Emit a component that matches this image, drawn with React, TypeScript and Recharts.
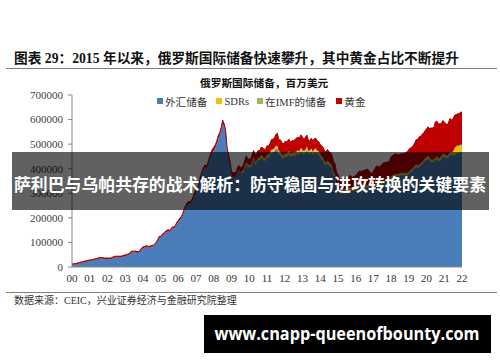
import React from 'react';
import { AreaChart, Area, XAxis, YAxis } from 'recharts';

// Russia international reserves, USD bn, monthly from 2000-01 to 2022-01
const totalReserves = [
  12.5, 13.3, 14.0, 15.5, 16.6, 18.6, 20.0, 21.7, 23.3, 24.7, 25.8, 27.9,
  28.4, 29.3, 30.7, 32.2, 33.5, 35.3, 37.2, 38.5, 38.8, 37.8, 36.5, 36.6,
  36.8, 36.0, 37.0, 38.6, 41.6, 43.7, 43.7, 44.3, 43.7, 44.0, 45.3, 47.8,
  49.0, 51.1, 53.3, 55.6, 63.7, 64.4, 64.6, 65.1, 62.8, 62.9, 67.4, 76.9,
  81.5, 83.3, 86.0, 85.4, 83.8, 85.5, 88.1, 88.4, 94.1, 100.5, 110.9, 124.5,
  124.5, 132.8, 136.9, 144.4, 148.4, 151.6, 149.4, 155.6, 163.3, 162.5, 169.3, 182.2,
  190.0, 198.9, 205.9, 217.9, 237.6, 250.6, 262.1, 266.2, 266.2, 272.5, 285.4, 303.7,
  314.7, 322.9, 338.8, 369.6, 390.3, 405.8, 415.5, 409.1, 425.4, 446.2, 464.4, 478.8,
  487.3, 497.3, 512.6, 535.2, 547.3, 568.7, 597.5, 582.2, 556.8, 484.6, 455.7, 427.1,
  386.9, 384.1, 383.9, 384.0, 404.2, 412.6, 401.8, 409.3, 413.4, 434.1, 452.4, 439.5,
  439.0, 439.0, 456.5, 473.7, 456.1, 461.2, 474.0, 472.2, 487.4, 486.1, 479.2, 479.4,
  493.3, 491.4, 502.5, 518.7, 520.1, 524.5, 538.4, 545.0, 516.8, 518.0, 507.8, 498.6,
  510.5, 509.3, 514.3, 519.5, 506.0, 514.4, 514.2, 518.5, 525.1, 528.6, 525.0, 537.6,
  528.2, 521.8, 527.8, 536.8, 516.2, 513.7, 523.9, 513.3, 522.0, 524.3, 512.7, 509.6,
  498.9, 493.3, 486.1, 471.8, 467.4, 478.3, 468.4, 465.2, 454.2, 428.6, 420.5, 385.5,
  376.2, 360.2, 356.3, 356.8, 362.6, 361.6, 358.3, 366.3, 371.3, 370.5, 364.3, 368.4,
  371.6, 379.8, 387.0, 391.5, 387.5, 392.2, 393.4, 396.8, 397.9, 391.3, 385.5, 377.7,
  391.0, 398.1, 410.1, 409.7, 405.6, 412.2, 418.4, 424.0, 424.8, 426.5, 427.0, 432.7,
  447.0, 453.7, 456.7, 460.5, 458.6, 456.8, 458.9, 460.6, 460.6, 462.0, 465.8, 468.5,
  478.4, 484.4, 487.8, 494.0, 505.4, 518.4, 518.6, 529.9, 531.2, 540.5, 544.9, 554.4,
  562.4, 570.4, 563.5, 565.4, 566.0, 568.2, 591.1, 593.3, 582.6, 582.7, 582.5, 595.8,
  590.7, 584.1, 576.6, 590.1, 605.2, 597.6, 603.3, 618.2, 619.1, 624.2, 622.5, 630.6,
  630.2,
];

const goldReserves = [
  4.3, 4.5, 4.2, 4.1, 4.1, 4.2, 4.1, 4.1, 4.1, 4.0, 4.1, 4.3,
  4.2, 4.2, 4.0, 4.2, 4.3, 4.2, 4.1, 4.2, 4.4, 4.3, 4.3, 4.2,
  4.3, 4.5, 4.6, 4.6, 4.9, 4.8, 4.7, 4.6, 4.8, 4.6, 4.7, 5.0,
  5.0, 5.0, 4.8, 4.8, 5.4, 5.2, 5.0, 5.2, 5.5, 5.3, 5.6, 5.9,
  5.5, 5.4, 5.7, 5.0, 4.8, 4.8, 4.8, 4.9, 5.0, 5.3, 5.6, 5.3,
  5.3, 5.4, 5.4, 5.4, 5.5, 5.6, 5.5, 5.6, 6.0, 6.3, 6.5, 6.4,
  7.3, 7.3, 7.6, 8.5, 8.5, 8.0, 8.3, 8.3, 7.9, 7.9, 8.6, 8.7,
  8.5, 8.8, 8.7, 9.0, 8.8, 8.5, 8.8, 8.9, 9.8, 10.5, 10.6, 12.0,
  12.8, 13.5, 13.1, 12.8, 12.7, 13.6, 13.5, 12.6, 13.3, 12.0, 13.5, 14.5,
  15.5, 16.6, 16.3, 15.8, 17.6, 17.7, 17.7, 18.4, 20.1, 21.5, 24.3, 22.8,
  23.0, 23.4, 24.2, 26.2, 27.8, 28.5, 27.5, 29.5, 31.7, 33.0, 34.8, 35.8,
  34.5, 36.4, 37.9, 41.1, 41.6, 41.2, 45.0, 52.6, 46.6, 49.0, 50.1, 44.2,
  49.3, 49.4, 48.2, 48.4, 46.1, 47.8, 48.8, 51.8, 54.7, 53.5, 53.6, 51.5,
  52.5, 49.2, 50.3, 46.7, 44.3, 38.9, 41.8, 44.4, 42.3, 41.5, 39.6, 37.0,
  39.3, 42.4, 41.6, 42.3, 40.7, 44.3, 43.6, 44.2, 42.2, 41.9, 42.2, 45.7,
  50.0, 46.5, 46.1, 46.6, 46.5, 45.6, 43.3, 45.6, 46.5, 48.3, 44.4, 49.2,
  50.0, 55.6, 56.0, 58.4, 56.3, 61.4, 65.4, 63.7, 65.1, 62.0, 57.7, 60.4,
  63.5, 67.0, 68.0, 69.6, 70.1, 68.0, 71.5, 74.3, 72.1, 73.5, 74.9, 76.6,
  80.1, 79.4, 81.0, 81.5, 80.9, 78.6, 76.8, 76.8, 76.5, 80.4, 80.8, 86.9,
  90.3, 89.7, 88.7, 88.7, 92.3, 100.0, 104.3, 113.1, 108.8, 113.0, 109.5, 110.9,
  116.2, 118.1, 118.4, 128.3, 129.2, 131.2, 145.4, 142.0, 139.1, 138.2, 130.9, 135.2,
  133.1, 126.4, 124.7, 130.4, 138.6, 129.5, 134.6, 134.2, 128.0, 129.2, 130.2, 132.3,
  133.5,
];

const sdrHoldings = [
  0, 0, 0, 0, 0, 0, 0, 0, 0, 0, 0, 0,
  0, 0, 0, 0, 0, 0, 0, 0, 0, 0, 0, 0,
  0, 0, 0, 0, 0, 0, 0, 0, 0, 0, 0, 0,
  0, 0, 0, 0, 0, 0, 0, 0, 0, 0, 0, 0,
  0, 0, 0, 0, 0, 0, 0, 0, 0, 0, 0, 0,
  0, 0, 0, 0, 0, 0, 0, 0, 0, 0, 0, 0,
  0, 0, 0, 0, 0, 0, 0, 0, 0, 0, 0, 0,
  0, 0, 0, 0, 0, 0, 0, 0, 0, 0, 0, 0,
  0, 0, 0, 0, 0, 0, 0, 0, 0, 0, 0, 0,
  0, 0, 0, 0, 0, 0, 0, 8.5, 9.0, 9.1, 9.2, 9.0,
  8.9, 8.8, 8.7, 8.7, 8.4, 8.5, 8.7, 8.8, 8.9, 9.0, 8.8, 8.8,
  9.0, 9.0, 9.1, 9.3, 9.3, 9.2, 9.2, 9.2, 8.9, 9.0, 8.9, 8.8,
  8.9, 9.0, 8.9, 8.9, 8.6, 8.7, 8.6, 8.8, 8.9, 8.9, 8.9, 8.9,
  8.9, 8.7, 8.7, 8.8, 8.7, 8.7, 8.8, 8.8, 8.9, 8.9, 8.9, 8.9,
  8.8, 8.9, 8.9, 8.9, 8.9, 8.9, 8.8, 8.7, 8.5, 8.4, 8.3, 8.2,
  8.0, 7.9, 7.7, 7.8, 7.7, 7.8, 7.7, 7.7, 7.6, 7.6, 7.5, 7.5,
  6.9, 6.7, 6.5, 6.4, 6.3, 6.2, 6.1, 6.0, 6.0, 5.9, 5.8, 5.8,
  5.8, 5.8, 5.8, 5.7, 5.7, 5.7, 5.7, 5.7, 5.7, 5.6, 5.6, 5.6,
  5.6, 5.6, 5.6, 5.6, 5.5, 5.5, 5.5, 5.5, 5.5, 5.5, 5.5, 5.5,
  5.5, 5.5, 5.5, 5.5, 5.5, 5.4, 5.4, 5.4, 5.4, 5.4, 5.4, 5.4,
  5.4, 5.4, 5.4, 5.4, 5.5, 5.5, 5.6, 5.6, 5.6, 5.6, 5.6, 5.7,
  5.7, 5.7, 5.6, 5.6, 5.7, 5.7, 5.7, 24.9, 24.8, 24.7, 24.6, 24.6,
  24.6,
];

const imfPosition = [
  0, 0, 0, 0, 0, 0, 0, 0, 0, 0, 0, 0,
  0, 0, 0, 0, 0, 0, 0, 0, 0, 0, 0, 0,
  0, 0, 0, 0, 0, 0, 0, 0, 0, 0, 0, 0,
  0, 0, 0, 0, 0, 0, 0, 0, 0, 0, 0, 0,
  0, 0, 0, 0, 0, 0, 0, 0, 0, 0, 0, 0,
  0, 0, 0, 0, 0, 0, 0, 0, 0, 0, 0, 0,
  0, 0, 0, 0, 0, 0, 0, 0, 0, 0, 0, 0,
  0, 0, 0, 0, 0, 0, 0, 0, 0, 0, 0, 0,
  0, 0, 0, 0, 0, 0, 0, 0, 0, 0, 0, 0,
  0, 0, 0, 0, 0, 0, 0, 0.3, 0.4, 0.6, 0.8, 1.0,
  1.0, 1.1, 1.2, 1.3, 1.3, 1.4, 1.5, 1.6, 1.7, 1.8, 1.9, 2.0,
  2.1, 2.2, 2.3, 2.4, 2.5, 2.6, 2.8, 3.0, 3.2, 3.4, 3.5, 3.6,
  3.8, 4.0, 4.2, 4.3, 4.5, 4.6, 4.7, 4.8, 4.9, 5.0, 5.0, 5.0,
  5.0, 4.9, 4.9, 4.8, 4.8, 4.7, 4.7, 4.6, 4.6, 4.5, 4.5, 4.4,
  4.4, 4.3, 4.3, 4.2, 4.2, 4.1, 4.1, 4.0, 4.0, 3.9, 3.8, 3.7,
  3.6, 3.5, 3.4, 3.3, 3.2, 3.1, 3.0, 2.9, 2.8, 2.7, 2.7, 2.6,
  2.6, 2.5, 2.5, 2.4, 2.4, 2.3, 2.3, 2.2, 2.2, 2.1, 2.1, 2.0,
  2.0, 2.0, 1.9, 1.9, 1.9, 1.8, 1.8, 1.8, 1.7, 1.7, 1.7, 1.6,
  1.8, 2.2, 2.6, 3.0, 3.3, 3.6, 3.8, 4.0, 4.1, 4.2, 4.3, 4.4,
  4.5, 4.5, 4.6, 4.6, 4.7, 4.7, 4.7, 4.8, 4.8, 4.8, 4.9, 4.9,
  4.9, 5.0, 5.0, 5.0, 5.0, 5.1, 5.1, 5.1, 5.1, 5.1, 5.1, 5.1,
  5.1, 5.1, 5.1, 5.1, 5.1, 5.1, 5.1, 5.1, 5.1, 5.1, 5.1, 5.1,
  5.1,
];

const yearLabels = ['00', '01', '02', '03', '04', '05', '06', '07', '08', '09', '10', '11',
  '12', '13', '14', '15', '16', '17', '18', '19', '20', '21', '22'];
const yTicks = [0, 100000, 200000, 300000, 400000, 500000, 600000, 700000];
const seriesNames = ['外汇储备', 'SDRs', '在IMF的储备', '黄金'];
const seriesColors = ['#4A7EBB', '#F2C200', '#9BBB59', '#C00000'];

const MN_PER_BN = 1000;
const MONTHS_PER_YEAR = 12;

const data = totalReserves.map((t, i) => {
  const g = goldReserves[i];
  const s = sdrHoldings[i];
  const m = imfPosition[i];
  return {
    i,
    fx: (t - g - s - m) * MN_PER_BN,
    sdr: s * MN_PER_BN,
    imf: m * MN_PER_BN,
    gold: g * MN_PER_BN,
  };
});
const xTicks = yearLabels.map((_, k) => k * MONTHS_PER_YEAR);
const lastIndex = totalReserves.length - 1;

const serif = "'Liberation Serif', 'Times New Roman', 'Noto Sans CJK SC', serif";
const cjk = "'Noto Sans CJK SC', sans-serif";

export default function App() {
  return (
    <div style={{ position: 'absolute', left: 0, top: 0, width: 500, height: 362, background: '#fff', overflow: 'hidden' }}>
      <div style={{ position: 'absolute', left: 14, top: 49, fontFamily: serif, fontWeight: 700, fontSize: 13.7, color: '#111', whiteSpace: 'nowrap', lineHeight: '20px' }}>
        图表 29：2015 年以来，俄罗斯国际储备快速攀升，其中黄金占比不断提升
      </div>
      <div style={{ position: 'absolute', left: 6, top: 68, width: 491, height: 1, background: '#7f7f7f' }} />
      <div style={{ position: 'absolute', left: 200, top: 76, fontFamily: serif, fontWeight: 700, fontSize: 10.7, color: '#111', whiteSpace: 'nowrap', lineHeight: '14px' }}>
        俄罗斯国际储备，百万美元
      </div>
      <div style={{ position: 'absolute', left: 157, top: 94, height: 14, display: 'flex', alignItems: 'center', fontFamily: serif, fontSize: 10.6, color: '#333', whiteSpace: 'nowrap' }}>
        {seriesNames.map((n, k) => (
          <span key={n} style={{ display: 'flex', alignItems: 'center', marginRight: k === 0 ? 9 : k === 1 ? 8 : 10 }}>
            <span style={{ display: 'inline-block', width: 6, height: 6, background: seriesColors[k], marginRight: 2 }} />
            {n}
          </span>
        ))}
      </div>
      <div style={{ position: 'absolute', left: 0, top: 0 }}>
        <AreaChart width={500} height={362} data={data} margin={{ top: 95, right: 38, bottom: 65, left: 0 }}>
          <XAxis
            dataKey="i"
            type="number"
            domain={[0, lastIndex]}
            ticks={xTicks}
            tickFormatter={(v: number) => yearLabels[Math.round(v / MONTHS_PER_YEAR)]}
            height={30}
            axisLine={{ stroke: '#868686' }}
            tickLine={false}
            tickSize={4}
            tickMargin={3}
            interval={0}
            tick={{ fontSize: 11, fill: '#333', fontFamily: serif }}
          />
          <YAxis
            type="number"
            domain={[0, 700000]}
            ticks={yTicks}
            width={72}
            axisLine={{ stroke: '#868686' }}
            tickLine={{ stroke: '#868686' }}
            tickSize={4}
            tickMargin={5}
            interval={0}
            tick={{ fontSize: 11, fill: '#404040', fontFamily: serif }}
          />
          <Area type="linear" dataKey="fx" stackId="a" stroke={seriesColors[0]} strokeWidth={0.5} fill={seriesColors[0]} fillOpacity={1} isAnimationActive={false} dot={false} activeDot={false} />
          <Area type="linear" dataKey="sdr" stackId="a" stroke="none" fill={seriesColors[1]} fillOpacity={1} isAnimationActive={false} dot={false} activeDot={false} />
          <Area type="linear" dataKey="imf" stackId="a" stroke="none" fill={seriesColors[2]} fillOpacity={1} isAnimationActive={false} dot={false} activeDot={false} />
          <Area type="linear" dataKey="gold" stackId="a" stroke="#A00000" strokeWidth={1} fill={seriesColors[3]} fillOpacity={1} isAnimationActive={false} dot={false} activeDot={false} />
        </AreaChart>
      </div>
      <div style={{ position: 'absolute', left: 6, top: 292, width: 491, height: 1, background: '#7f7f7f' }} />
      <div style={{ position: 'absolute', left: 14, top: 294, fontFamily: serif, fontSize: 10, color: '#333', whiteSpace: 'nowrap', lineHeight: '13px' }}>
        数据来源：CEIC，兴业证券经济与金融研究院整理
      </div>
      <svg width={500} height={362} style={{ position: 'absolute', left: 0, top: 0, pointerEvents: 'none' }}>
        <rect x={12} y={152} width={477} height={58} fill="rgba(0,0,0,0.62)" />
        <text x={250} y={191} textAnchor="middle" fill="#fff" fontFamily={cjk} fontWeight={700} fontSize={17} textLength={472} lengthAdjust="spacingAndGlyphs">
          萨利巴与乌帕共存的战术解析：防守稳固与进攻转换的关键要素
        </text>
        <rect x={204} y={315} width={287} height={38} fill="#000" />
        <text x={347} y={340} textAnchor="middle" fill="#fff" fontFamily="'Open Sans', 'Liberation Sans', sans-serif" fontWeight={700} fontSize={17} textLength={265} lengthAdjust="spacingAndGlyphs">
          www.cnapp-queenofbounty.com
        </text>
      </svg>
    </div>
  );
}
